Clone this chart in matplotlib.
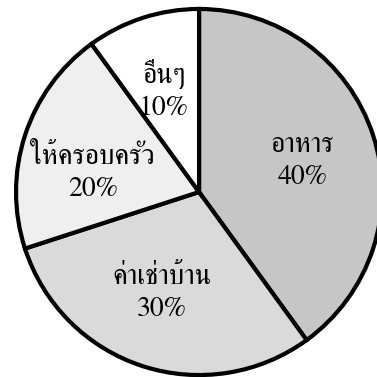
import matplotlib
matplotlib.use('Agg')
import matplotlib.pyplot as plt
import numpy as np

# monthly spending shares
categories = ['อาหาร', 'ค่าเช่าบ้าน', 'ให้ครอบครัว', 'อื่นๆ']
shares = [40, 30, 20, 10]
colors = ['#c6c6c6', '#dadada', '#efefef', '#ffffff']
# small angular nudges (deg) for the labels, to sit like the original
label_shift = [-1.5, -2, 8, 1]

plt.rcParams['font.family'] = ['FreeSerif', 'DejaVu Sans']

fig = plt.figure(figsize=(3.77, 3.77), dpi=100)
ax = fig.add_axes([0.0425, 0.0052, 0.971, 0.971])

labels = [f"{c}\n{v}%" for c, v in zip(categories, shares)]
label_r = 0.59
wedges, texts = ax.pie(shares, labels=labels, colors=colors, startangle=90,
                       counterclock=False, labeldistance=label_r,
                       wedgeprops=dict(edgecolor='black', linewidth=3),
                       textprops=dict(fontsize=20, linespacing=1.35))
for w, t, d in zip(wedges, texts, label_shift):
    ang = np.deg2rad((w.theta1 + w.theta2) / 2 + d)
    t.set_position((label_r * np.cos(ang), label_r * np.sin(ang)))
    t.set_ha('center')
    t.set_va('center')
    t.set_multialignment('center')

ax.set_xlim(-1, 1)
ax.set_ylim(-1, 1)
ax.set_aspect('equal')
ax.axis('off')

fig.savefig('out.png', dpi=100)
